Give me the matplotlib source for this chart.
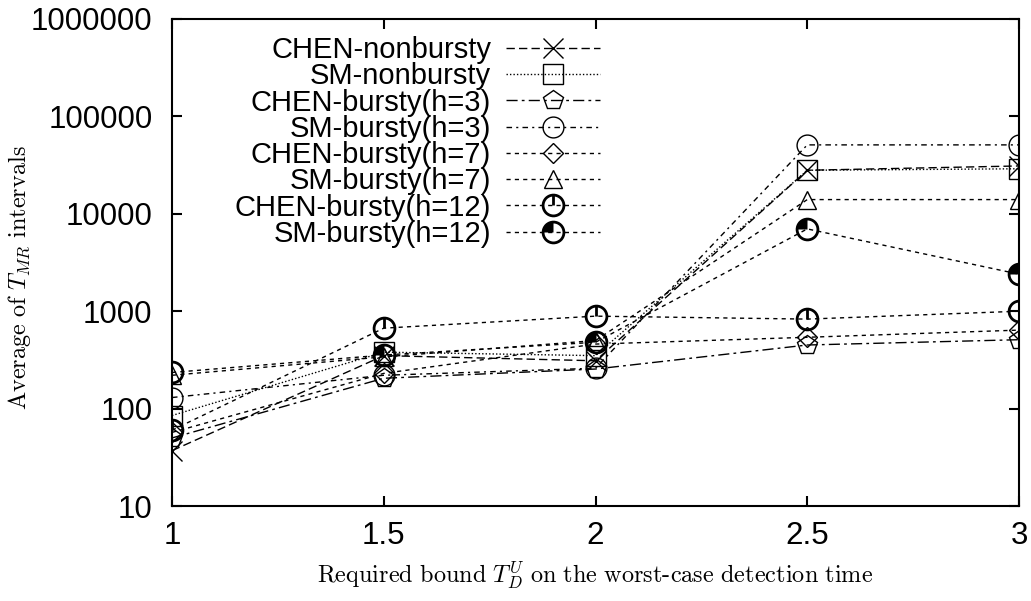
import numpy as np
import matplotlib
matplotlib.use("Agg")
from matplotlib import pyplot as plt
from matplotlib.path import Path
from matplotlib.ticker import FixedLocator, FixedFormatter

plt.rcParams['font.family'] = ['Liberation Sans', 'DejaVu Sans']
plt.rcParams['mathtext.fontset'] = 'cm'

# data
x = [1, 1.5, 2, 2.5, 3]
chen_nb = [37, 350, 310, 28000, 31000]
sm_nb = [85, 380, 350, 28000, 29000]
chen_h3 = [50, 205, 255, 450, 510]
sm_h3 = [130, 220, 260, 51000, 51000]
chen_h7 = [57, 230, 460, 540, 640]
sm_h7 = [220, 340, 500, 14000, 14000]
chen_h12 = [60, 670, 890, 830, 1000]
sm_h12 = [235, 355, 480, 7000, 2400]

xticks = [1, 1.5, 2, 2.5, 3]
xticklabels = ['1', '1.5', '2', '2.5', '3']
yticks = [10, 100, 1000, 10000, 100000, 1000000]
yticklabels = ['10', '100', '1000', '10000', '100000', '1000000']

hand = Path([(0, 0), (0, 1)], [Path.MOVETO, Path.LINETO])
quarter = Path.wedge(90, 180)

fig = plt.figure(figsize=(10.31, 6.01), dpi=100)
ax = fig.add_axes([0.1668, 0.158, 0.8216, 0.8104])

lw = 1.0
handles = []

l, = ax.plot(x, chen_nb, color='k', lw=lw, dashes=(6, 3), marker='x', ms=14, mew=1.0)
handles.append((l,))
l, = ax.plot(x, sm_nb, color='k', lw=lw, dashes=(1, 1.5), marker='s', ms=15, mfc='none', mew=1.0)
handles.append((l,))
l, = ax.plot(x, chen_h3, color='k', lw=lw, dashes=(8, 3, 2, 3), marker='p', ms=15, mfc='none', mew=1.0)
handles.append((l,))
l, = ax.plot(x, sm_h3, color='k', lw=lw, dashes=(4, 3, 1.5, 3), marker='o', ms=15, mfc='none', mew=1.0)
handles.append((l,))
l, = ax.plot(x, chen_h7, color='k', lw=lw, dashes=(3, 3), marker='D', ms=10, mfc='none', mew=1.0)
handles.append((l,))
l, = ax.plot(x, sm_h7, color='k', lw=lw, dashes=(3, 3), marker='^', ms=13, mfc='none', mew=1.0)
handles.append((l,))
l, = ax.plot(x, chen_h12, color='k', lw=lw, dashes=(3, 3), marker='o', ms=15, mfc='none', mew=2.0)
h2, = ax.plot(x, chen_h12, color='k', ls='none', marker=hand, ms=15, mfc='none', mew=2.0)
handles.append((l, h2))
l, = ax.plot(x, sm_h12, color='k', lw=lw, dashes=(3, 3), marker='o', ms=15, mfc='none', mew=2.0)
h2, = ax.plot(x, sm_h12, color='k', ls='none', marker=quarter, ms=15, mfc='k', mew=0)
handles.append((l, h2))

labels = ['CHEN-nonbursty', 'SM-nonbursty', 'CHEN-bursty(h=3)', 'SM-bursty(h=3)',
          'CHEN-bursty(h=7)', 'SM-bursty(h=7)', 'CHEN-bursty(h=12)', 'SM-bursty(h=12)']

ax.set_yscale('log')
ax.set_xlim(1, 3)
ax.set_ylim(10, 1000000)
ax.xaxis.set_major_locator(FixedLocator(xticks))
ax.xaxis.set_major_formatter(FixedFormatter(xticklabels))
ax.yaxis.set_major_locator(FixedLocator(yticks))
ax.yaxis.set_major_formatter(FixedFormatter(yticklabels))
ax.yaxis.set_minor_locator(FixedLocator([]))
ax.tick_params(which='major', direction='in', length=7, width=1.5, top=True, right=True,
               labelsize=22.5)
ax.tick_params(axis='x', pad=11)
ax.tick_params(axis='y', pad=14)
for s in ax.spines.values():
    s.set_linewidth(1.5)

ax.set_ylabel(r'$\mathrm{Average\ of\ }T_{MR}\mathrm{\ intervals}$', fontsize=17.5)
ax.yaxis.set_label_coords(-0.164, 0.47)
ax.set_xlabel(r'$\mathrm{Required\ bound\ }T_D^U\mathrm{\ on\ the\ worst\text{-}case\ detection\ time}$',
              fontsize=17.5)
ax.xaxis.set_label_coords(0.5, -0.11)

leg = ax.legend(handles, labels, loc='upper right', bbox_to_anchor=(0.523, 0.995),
                frameon=False, markerfirst=False, numpoints=1, fontsize=21,
                handlelength=3.25, handletextpad=0.5, labelspacing=-0.06, borderpad=0)

fig.savefig('out.png', dpi=100)
